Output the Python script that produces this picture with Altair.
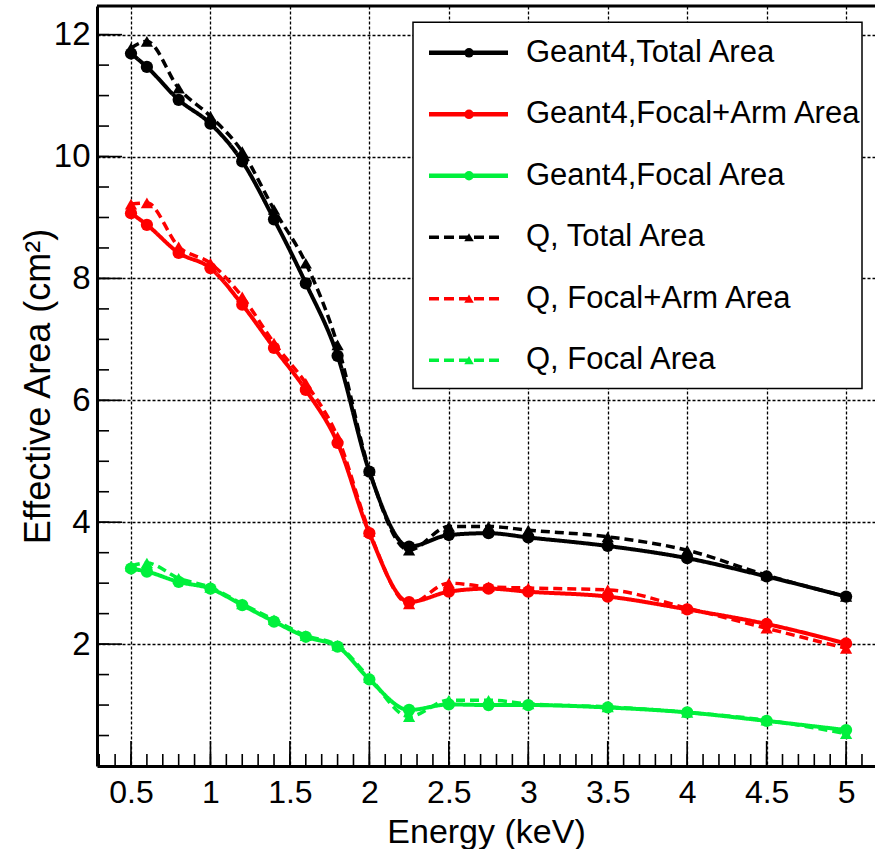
import altair as alt
import pandas as pd

# Photon energies (keV) at which the effective area was evaluated
energy = [0.5, 0.6, 0.8, 1.0, 1.2, 1.4, 1.6, 1.8, 2.0, 2.25, 2.5, 2.75, 3.0, 3.5, 4.0, 4.5, 5.0]

# Effective area (cm^2), Geant4 simulation
g4_total = [11.69, 11.47, 10.93, 10.54, 9.92, 8.97, 7.92, 6.73, 4.83, 3.60, 3.79, 3.82, 3.75, 3.61, 3.41, 3.11, 2.78]
g4_focal_arm = [9.07, 8.88, 8.42, 8.17, 7.57, 6.86, 6.17, 5.30, 3.82, 2.69, 2.86, 2.91, 2.86, 2.78, 2.57, 2.33, 2.01]
g4_focal = [3.24, 3.19, 3.02, 2.91, 2.64, 2.37, 2.12, 1.96, 1.42, 0.92, 1.01, 1.00, 1.00, 0.96, 0.88, 0.74, 0.59]

# Effective area (cm^2), Q calculation
q_total = [11.78, 11.89, 11.12, 10.66, 10.08, 9.13, 8.25, 6.91, 4.85, 3.54, 3.93, 3.93, 3.87, 3.76, 3.54, 3.13, 2.78]
q_focal_arm = [9.22, 9.24, 8.52, 8.25, 7.70, 6.94, 6.28, 5.40, 3.85, 2.66, 3.00, 2.94, 2.92, 2.89, 2.59, 2.26, 1.93]
q_focal = [3.28, 3.33, 3.08, 2.93, 2.66, 2.40, 2.14, 1.98, 1.45, 0.81, 1.08, 1.08, 1.02, 0.97, 0.88, 0.75, 0.53]

series_names = [
    "Geant4,Total Area", "Geant4,Focal+Arm Area", "Geant4,Focal Area",
    "Q, Total Area", "Q, Focal+Arm Area", "Q, Focal Area",
]
series_kinds = ["Geant4", "Geant4", "Geant4", "Q", "Q", "Q"]
series_colors = ["#000000", "#ff0000", "#00f03c", "#000000", "#ff0000", "#00f03c"]
series_values = [g4_total, g4_focal_arm, g4_focal, q_total, q_focal_arm, q_focal]

x_ticks = [0.5, 1, 1.5, 2, 2.5, 3, 3.5, 4, 4.5, 5]
y_ticks = [2, 4, 6, 8, 10, 12]

W, H = 778, 760
FONT = "Liberation Sans"

rows = []
for name, kind, colr, vals in zip(series_names, series_kinds, series_colors, series_values):
    for e, a in zip(energy, vals):
        rows.append({"E": e, "A": a, "series": name, "kind": kind, "colr": colr})
df = pd.DataFrame(rows)
df_g4 = df[df["kind"] == "Geant4"]
df_q = df[df["kind"] == "Q"]

xs = alt.Scale(domain=[0.286, 5.182], nice=False, zero=False)
ys = alt.Scale(domain=[0, 12.47], nice=False, zero=False)

x_axis = alt.Axis(
    values=x_ticks, format="~g", title="Energy (keV)",
    grid=True, gridColor="black", gridDash=[3, 2], gridWidth=1.3,
    ticks=False, tickSize=0, domainColor="black", domainWidth=3,
    labelFont=FONT, labelFontSize=32, labelColor="black", labelPadding=36,
    labelBaseline="alphabetic", labelFlush=False, labelOverlap=False,
    titleFont=FONT, titleFontSize=34, titleFontWeight="normal", titleColor="black",
    titleX=W / 2, titleY=76, titleAlign="center", titleBaseline="alphabetic",
)
y_axis = alt.Axis(
    values=y_ticks, format="d", title="Effective Area (cm²)",
    grid=True, gridColor="black", gridDash=[3, 2], gridWidth=1.3,
    ticks=False, tickSize=0, domainColor="black", domainWidth=3,
    labelFont=FONT, labelFontSize=33, labelColor="black", labelPadding=7,
    labelFlush=False, labelOverlap=False,
    titleFont=FONT, titleFontSize=36, titleFontWeight="normal", titleColor="black",
    titleX=-48, titleY=H / 2, titleAngle=270, titleAlign="center", titleBaseline="alphabetic",
)

dash = alt.StrokeDash("kind:N", scale=alt.Scale(domain=["Geant4", "Q"], range=[[1, 0], [9, 5]]), legend=None)
colr = alt.Color("colr:N", scale=None)

base_x = alt.X("E:Q", scale=xs, axis=x_axis)
base_y = alt.Y("A:Q", scale=ys, axis=y_axis)

q_lines = alt.Chart(df_q).mark_line(interpolate="monotone", strokeWidth=3.5).encode(
    x=base_x, y=base_y, detail="series:N", color=colr, strokeDash=dash
)
g4_lines = alt.Chart(df_g4).mark_line(interpolate="monotone", strokeWidth=4).encode(
    x=base_x, y=base_y, detail="series:N", color=colr, strokeDash=dash
)
q_pts = alt.Chart(df_q).mark_point(filled=True, opacity=1, shape="triangle-up", size=150).encode(
    x=base_x, y=base_y, color=colr
)
g4_pts = alt.Chart(df_g4).mark_point(filled=True, opacity=1, shape="circle", size=150).encode(
    x=base_x, y=base_y, color=colr
)

# Inward-pointing tick marks along the frame (same fields/axes as the data layers)
xt_minor = pd.DataFrame({"E": [round(0.3 + 0.1 * i, 2) for i in range(49)]})
xt_major = pd.DataFrame({"E": x_ticks})
yt_minor = pd.DataFrame({"A": [0.5 * i for i in range(1, 25)]})
yt_major = pd.DataFrame({"A": y_ticks})

tick_style = dict(color="black", strokeWidth=1.6)
x_minor_ticks = alt.Chart(xt_minor).mark_rule(**tick_style).encode(
    x=base_x, y=alt.value(H), y2=alt.value(H - 12)
)
x_major_ticks = alt.Chart(xt_major).mark_rule(**tick_style).encode(
    x=base_x, y=alt.value(H), y2=alt.value(H - 25)
)
y_minor_ticks = alt.Chart(yt_minor).mark_rule(**tick_style).encode(
    y=base_y, x=alt.value(0), x2=alt.value(12)
)
y_major_ticks = alt.Chart(yt_major).mark_rule(**tick_style).encode(
    y=base_y, x=alt.value(0), x2=alt.value(25)
)
top_frame = alt.Chart(pd.DataFrame({"z": [0]})).mark_rule(color="black", strokeWidth=3).encode(
    x=alt.value(0), x2=alt.value(W), y=alt.value(0)
)

main = alt.layer(
    q_lines, g4_lines, q_pts, g4_pts,
    x_minor_ticks, x_major_ticks, y_minor_ticks, y_major_ticks, top_frame,
)

# Legend box
leg = pd.DataFrame({
    "row": list(range(6)),
    "label": series_names,
    "kind": series_kinds,
    "colr": series_colors,
})
leg_g4 = leg[leg["kind"] == "Geant4"]
leg_q = leg[leg["kind"] == "Q"]
ly = alt.Y("row:Q", scale=alt.Scale(domain=[0, 5], range=[46.8, 354.2]), axis=None)

leg_box = alt.Chart(pd.DataFrame({"z": [0]})).mark_rect(
    fill="white", stroke="black", strokeWidth=1.5
).encode(x=alt.value(316), x2=alt.value(765), y=alt.value(16.2), y2=alt.value(382.5))
leg_line_g4 = alt.Chart(leg_g4).mark_rule(strokeWidth=4.5).encode(
    x=alt.value(332), x2=alt.value(411), y=ly, color=colr
)
leg_line_q = alt.Chart(leg_q).mark_rule(strokeWidth=3.5, strokeDash=[10, 5]).encode(
    x=alt.value(332), x2=alt.value(406), y=ly, color=colr
)
leg_pt_g4 = alt.Chart(leg_g4).mark_point(filled=True, opacity=1, shape="circle", size=90).encode(
    x=alt.value(372), y=ly, color=colr
)
leg_pt_q = alt.Chart(leg_q).mark_point(filled=True, opacity=1, shape="triangle-up", size=90).encode(
    x=alt.value(372), y=ly, color=colr
)
leg_text = alt.Chart(leg).mark_text(
    align="left", baseline="middle", font=FONT, fontSize=31, color="black"
).encode(x=alt.value(429), y=ly, text="label:N")

legend = alt.layer(leg_box, leg_line_g4, leg_line_q, leg_pt_g4, leg_pt_q, leg_text)

chart = (
    alt.layer(main, legend)
    .resolve_scale(y="independent")
    .properties(
        width=W, height=H, autosize="none",
        padding={"left": 97, "top": 6, "right": 0, "bottom": 83},
        background="white",
    )
    .configure_view(stroke=None)
)

chart.save("out.html", embed_options={"renderer": "svg", "actions": False})
